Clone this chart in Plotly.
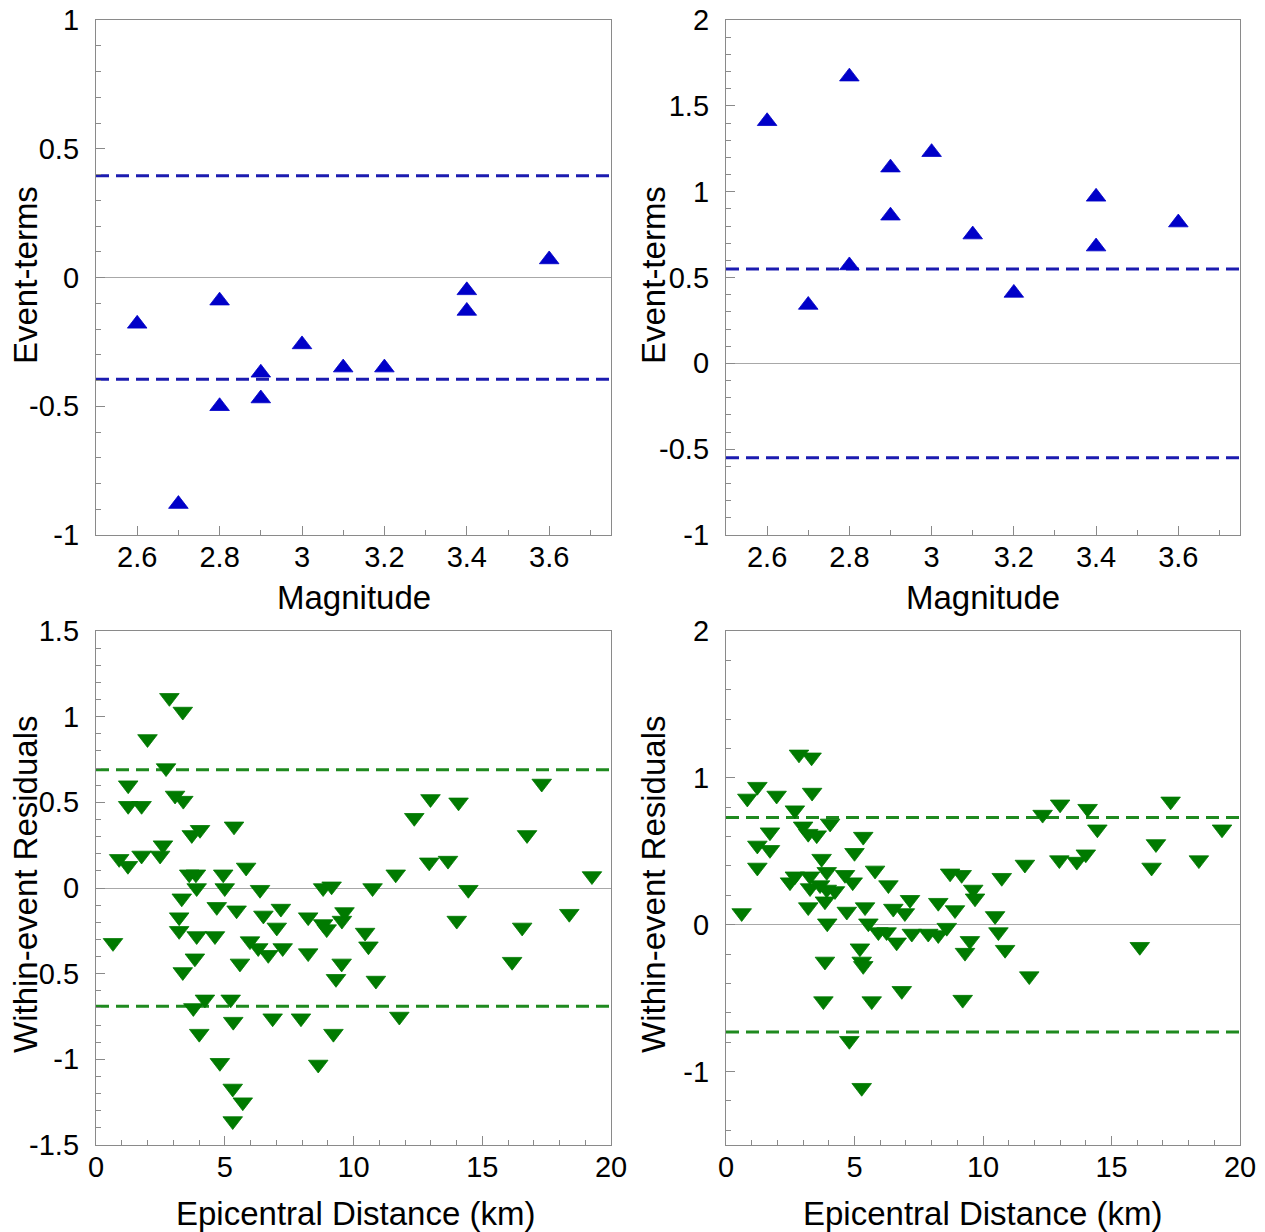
import plotly.graph_objects as go

# Event terms versus magnitude (two components)
mag_a = [2.6, 2.7, 2.8, 2.8, 2.9, 2.9, 3.0, 3.1, 3.2, 3.4, 3.4, 3.6]
evt_a = [-0.18, -0.88, -0.09, -0.50, -0.37, -0.47, -0.26, -0.35, -0.35, -0.05, -0.13, 0.07]
sd_evt_a = 0.395

mag_b = [2.6, 2.7, 2.8, 2.8, 2.9, 2.9, 3.0, 3.1, 3.2, 3.4, 3.4, 3.6]
evt_b = [1.41, 0.34, 1.67, 0.57, 1.14, 0.86, 1.23, 0.75, 0.41, 0.97, 0.68, 0.82]
sd_evt_b = 0.55

# Within-event residuals versus epicentral distance (km)
dist_a = [0.66, 0.90, 1.24, 1.25, 1.25, 1.77, 1.77, 2.00, 2.49, 2.60, 2.72, 2.85,
          3.37, 3.07, 3.39, 3.33, 3.23, 3.23, 3.37, 3.72, 4.04, 3.62, 3.88, 3.91,
          3.91, 3.84, 3.78, 4.01, 4.23, 4.62, 4.69, 4.94, 5.00, 4.81, 5.31, 5.70,
          5.31, 5.23, 5.36, 5.46, 5.33, 5.59, 5.83, 5.98, 6.30, 6.37, 6.50, 6.69,
          6.86, 7.02, 7.18, 7.25, 7.96, 8.24, 8.24, 8.63, 8.82, 8.82, 8.96, 9.15,
          9.22, 9.32, 9.54, 9.55, 9.65, 10.45, 10.58, 10.74, 10.87, 11.64, 11.78,
          12.36, 12.99, 12.94, 13.67, 14.08, 14.01, 14.46, 16.16, 16.74, 16.55,
          17.31, 18.38, 19.26]
res_a = [-0.32, 0.17, 0.13, 0.60, 0.48, 0.48, 0.19, 0.87, 0.19, 0.25, 0.70, 1.11,
         1.03, 0.54, 0.51, -0.06, -0.17, -0.25, -0.49, 0.31, 0.34, 0.08, 0.08, 0.00,
         -0.28, -0.41, -0.70, -0.85, -0.65, -0.28, -0.11, 0.08, 0.00, -1.02, -1.17, -1.25,
         -1.36, -0.65, 0.36, -0.13, -0.78, -0.44, 0.12, -0.31, -0.35, -0.01, -0.16, -0.39,
         -0.76, -0.23, -0.12, -0.35, -0.76, -0.17, -0.38, -1.03, 0.00, -0.21, -0.24, 0.01,
         -0.85, -0.53, -0.44, -0.19, -0.14, -0.26, -0.34, 0.00, -0.54, 0.08, -0.75,
         0.41, 0.52, 0.15, 0.16, 0.50, -0.19, -0.01, -0.43, 0.31, -0.23,
         0.61, -0.15, 0.07]
sd_res_a = 0.69

dist_b = [0.61, 0.83, 1.22, 1.22, 1.22, 1.71, 1.71, 1.97, 2.49, 2.68, 2.68, 2.84,
          3.33, 3.35, 3.00, 3.20, 3.53, 4.05, 3.27, 3.27, 3.20, 3.72, 3.92, 3.66,
          3.92, 4.24, 3.85, 3.94, 3.85, 3.79, 4.63, 4.93, 5.00, 5.34, 4.70, 4.80,
          5.28, 5.21, 5.28, 5.34, 5.41, 5.54, 5.67, 5.80, 5.93, 6.25, 6.32, 6.51,
          6.64, 6.84, 6.96, 7.16, 7.23, 7.87, 8.26, 8.26, 8.59, 8.72, 8.91, 9.17,
          9.21, 9.30, 9.49, 9.62, 9.69, 10.47, 10.60, 10.73, 10.86, 11.63, 11.80,
          12.32, 13.00, 12.97, 13.65, 14.00, 14.07, 14.45, 16.10, 16.56, 16.73,
          17.30, 18.40, 19.30]
res_b = [0.08, 0.86, 0.94, 0.54, 0.39, 0.63, 0.51, 0.88, 0.29, 0.33, 0.78, 1.16,
         1.14, 0.90, 0.67, 0.62, 0.61, 0.69, 0.33, 0.25, 0.12, 0.45, 0.36, 0.27,
         0.24, 0.23, 0.16, 0.01, -0.25, -0.52, 0.34, 0.29, 0.49, 0.60, 0.09, -0.79,
         -1.11, -0.16, -0.25, -0.28, 0.12, 0.01, -0.52, 0.37, -0.05, -0.05, 0.27, 0.11,
         -0.12, -0.45, 0.08, 0.17, -0.06, -0.06, 0.15, -0.07, -0.02, 0.35, 0.10, 0.34,
         -0.51, -0.19, -0.11, 0.24, 0.18, 0.06, -0.05, 0.32, -0.17, 0.41, -0.35,
         0.75, 0.82, 0.44, 0.43, 0.48, 0.79, 0.65, -0.15, 0.39, 0.55,
         0.84, 0.44, 0.65]
sd_res_b = 0.73

# Tick positions for each axis
mag_ticks = [2.6, 2.8, 3.0, 3.2, 3.4, 3.6]
dist_ticks = [0, 5, 10, 15, 20]
evt_a_ticks = [-1, -0.5, 0, 0.5, 1]
evt_b_ticks = [-1, -0.5, 0, 0.5, 1, 1.5, 2]
res_a_ticks = [-1.5, -1, -0.5, 0, 0.5, 1, 1.5]
res_b_ticks = [-1, 0, 1, 2]

BLUE = "#0000c8"
BLUE_LINE = "#1c1cb0"
GREEN = "#007a00"
GREEN_LINE = "#1f8a1f"
FRAME = "#8a8a8a"
FONT = "Liberation Sans, Arial, sans-serif"

W, H = 1265, 1232


def label(v):
    # plain hyphen-minus labels, e.g. "-0.5", "3"
    return f"{v:g}"


def px_dom(a, b, total, flip=False):
    if flip:
        return [1 - b / total, 1 - a / total]
    return [a / total, b / total]


fig = go.Figure()

panels = [
    # (xaxis id, yaxis id, x px span, y px span)
    ("x", "y", (96, 611), (20, 535)),
    ("x2", "y2", (726, 1240), (20, 535)),
    ("x3", "y3", (96, 611), (631, 1145)),
    ("x4", "y4", (726, 1240), (631, 1145)),
]

series = [
    (mag_a, evt_a, sd_evt_a, "triangle-up", BLUE, BLUE_LINE, [2.5, 3.75]),
    (mag_b, evt_b, sd_evt_b, "triangle-up", BLUE, BLUE_LINE, [2.5, 3.75]),
    (dist_a, res_a, sd_res_a, "triangle-down", GREEN, GREEN_LINE, [0, 20]),
    (dist_b, res_b, sd_res_b, "triangle-down", GREEN, GREEN_LINE, [0, 20]),
]

for (xa, ya, _, _), (xs, ys, sd, sym, mc, lc, xr) in zip(panels, series):
    for level in (sd, -sd):
        fig.add_trace(go.Scatter(
            x=xr, y=[level, level], mode="lines", xaxis=xa, yaxis=ya,
            line=dict(color=lc, width=3, dash="13px,7px"),
            hoverinfo="skip", showlegend=False,
        ))
    fig.add_trace(go.Scatter(
        x=xs, y=ys, mode="markers", xaxis=xa, yaxis=ya,
        marker=dict(symbol=sym, size=17, color=mc, line=dict(width=0.8, color=mc)),
        showlegend=False,
    ))


def minor(dt, t0=None):
    m = dict(ticks="inside", dtick=dt, ticklen=5, tickcolor=FRAME, tickwidth=1.2)
    if t0 is not None:
        m["tick0"] = t0
    return m


common_axis = dict(
    showline=True, linecolor=FRAME, linewidth=1.3, mirror=True, automargin=False,
    showgrid=False, ticks="inside", ticklen=9, tickwidth=1.2, tickcolor=FRAME,
    tickfont=dict(family=FONT, size=29, color="black"),
)


def xspec(ticks, rng, mnr):
    return dict(range=rng, tickmode="array", tickvals=ticks,
                ticktext=[label(t) for t in ticks], minor=mnr,
                zeroline=False, ticklabelstandoff=-4)


def yspec(ticks, rng, mnr):
    return dict(range=rng, tickmode="array", tickvals=ticks,
                ticktext=[label(t) for t in ticks], minor=mnr,
                zeroline=True, zerolinecolor="#a8a8a8", zerolinewidth=1,
                ticklabelstandoff=10)


xspecs = [
    xspec(mag_ticks, [2.5, 3.75], minor(0.1, 2.5)),
    xspec(mag_ticks, [2.5, 3.75], minor(0.1, 2.5)),
    xspec(dist_ticks, [0, 20], minor(1, 0)),
    xspec(dist_ticks, [0, 20], minor(1, 0)),
]
yspecs = [
    yspec(evt_a_ticks, [-1, 1], minor(0.1, 0)),
    yspec(evt_b_ticks, [-1, 2], minor(0.1, 0)),
    yspec(res_a_ticks, [-1.5, 1.5], minor(0.1, 0)),
    yspec(res_b_ticks, [-1.5, 2], minor(0.2, 0)),
]

layout_axes = {}
for i, ((xa, ya, xspan, yspan), xs_, ys_) in enumerate(zip(panels, xspecs, yspecs)):
    suffix = "" if i == 0 else str(i + 1)
    layout_axes["xaxis" + suffix] = dict(common_axis, **xs_,
                                         domain=px_dom(xspan[0], xspan[1], W), anchor=ya)
    layout_axes["yaxis" + suffix] = dict(common_axis, **ys_,
                                         domain=px_dom(yspan[0], yspan[1], H, flip=True), anchor=xa)

# Axis titles placed as text in page coordinates
titles = [
    ("Magnitude", 354, 597, 0),
    ("Magnitude", 983, 597, 0),
    ("Epicentral Distance (km)", 355, 1213, 0),
    ("Epicentral Distance (km)", 983, 1213, 0),
    ("Event-terms", 25, 275, -90),
    ("Event-terms", 653, 275, -90),
    ("Within-event Residuals", 25, 885, -90),
    ("Within-event Residuals", 653, 885, -90),
]
annotations = [
    dict(text=t, x=px / W, y=1 - py / H, xref="paper", yref="paper",
         xanchor="center", yanchor="middle", showarrow=False, textangle=ang,
         font=dict(family=FONT, size=33, color="black"))
    for t, px, py, ang in titles
]

fig.update_layout(
    width=W, height=H,
    margin=dict(l=0, r=0, t=0, b=0),
    paper_bgcolor="white", plot_bgcolor="white",
    font=dict(family=FONT, color="black"),
    annotations=annotations,
    **layout_axes,
)

fig.write_html("out.html")
